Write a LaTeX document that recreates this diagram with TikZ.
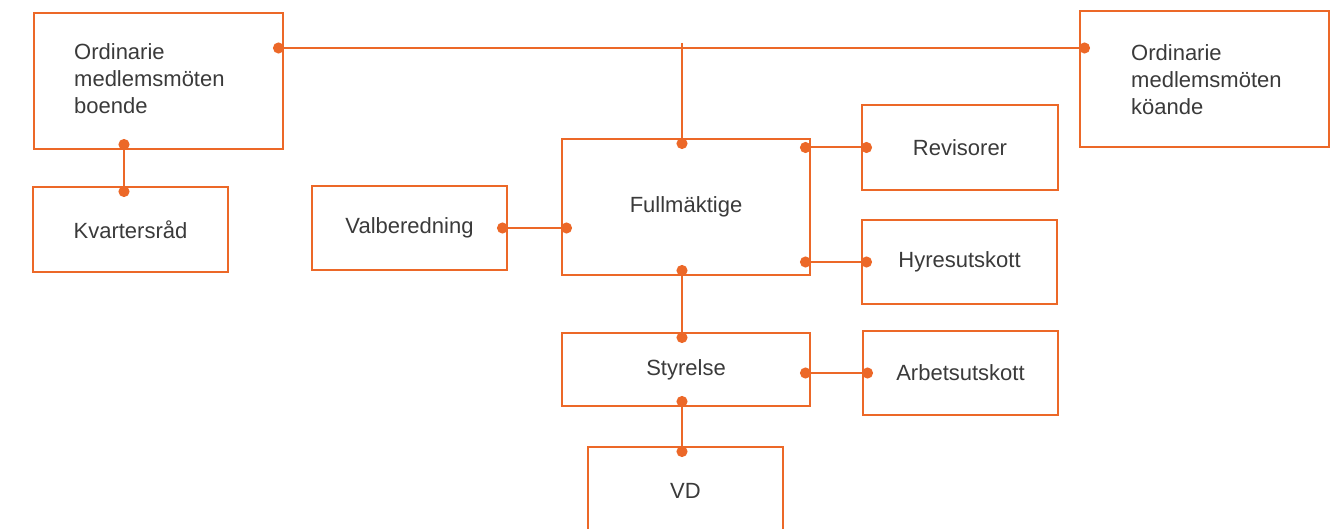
\documentclass[tikz,border=0pt]{standalone}
\usepackage{fontspec}
\setmainfont{Liberation Sans}
\usetikzlibrary{arrows.meta}

\definecolor{orng}{RGB}{236,104,40}
\definecolor{txtgray}{RGB}{58,58,58}

\tikzset{
    box/.style={draw=orng, line width=2pt, rectangle, text=txtgray,
        font=\fontsize{22}{27}\selectfont},
    lbl/.style={text=txtgray, align=left, inner sep=0pt,
        font=\fontsize{22}{27}\selectfont},
    link/.style={draw=orng, line width=2pt,
        {Circle[length=11pt]}-{Circle[length=11pt]},
        shorten <=-11pt, shorten >=-11pt},
    stub/.style={draw=orng, line width=2pt,
        -{Circle[length=11pt]}, shorten >=-11pt}
}

\begin{document}
\begin{tikzpicture}[x=1pt, y=-1pt]
        \useasboundingbox (0,0) rectangle (1335,529);

        % medlemsmoten
        \node[box, minimum width=249, minimum height=136] (ob) at (158.5,81) {};
        \node[lbl, anchor=west] (obtxt) at ([shift={(41,-2)}]ob.west) {Ordinarie\\medlemsmöten\\boende};
        \node[box, minimum width=249, minimum height=136] (ok) at (1204.5,79) {};
        \node[lbl, anchor=west] (oktxt) at ([shift={(52,1)}]ok.west) {Ordinarie\\medlemsmöten\\köande};
        \node[box, minimum width=195, minimum height=85] (kv) at (130.5,229.5) {Kvartersråd};

        % mitten
        \node[box, minimum width=195, minimum height=84] (val) at (409.5,228) {Valberedning};
        \node[box, minimum width=248, minimum height=136] (full) at (686,207) {Fullmäktige};
        \node[box, minimum width=248, minimum height=73] (sty) at (686,369.5) {Styrelse};
        \node[box, minimum width=195, minimum height=88] (vd) at (685.5,491) {VD};

        % utskott
        \node[box, minimum width=196, minimum height=85] (rev) at (960,147.5) {Revisorer};
        \node[box, minimum width=195, minimum height=84] (hyr) at (959.5,262) {Hyresutskott};
        \node[box, minimum width=195, minimum height=84] (arb) at (960.5,373) {Arbetsutskott};

        % linjer
        \coordinate (top) at (682,43);
        \coordinate (kvx) at (124,0);
        \draw[link] (ob.east |- 0,48) -- (ok.west |- 0,48);
        \draw[stub] (top) -- (top |- full.north);
        \draw[link] (ob.south -| kvx) -- (kv.north -| kvx);
        \draw[link] (val.east) -- (full.west |- val.east);
        \draw[link] (full.east |- rev.west) -- (rev.west);
        \draw[link] (full.east |- hyr.west) -- (hyr.west);
        \draw[link] (full.south -| top) -- (sty.north -| top);
        \draw[link] (sty.east |- arb.west) -- (arb.west);
        \draw[link] (sty.south -| top) -- (vd.north -| top);
\end{tikzpicture}
\end{document}
